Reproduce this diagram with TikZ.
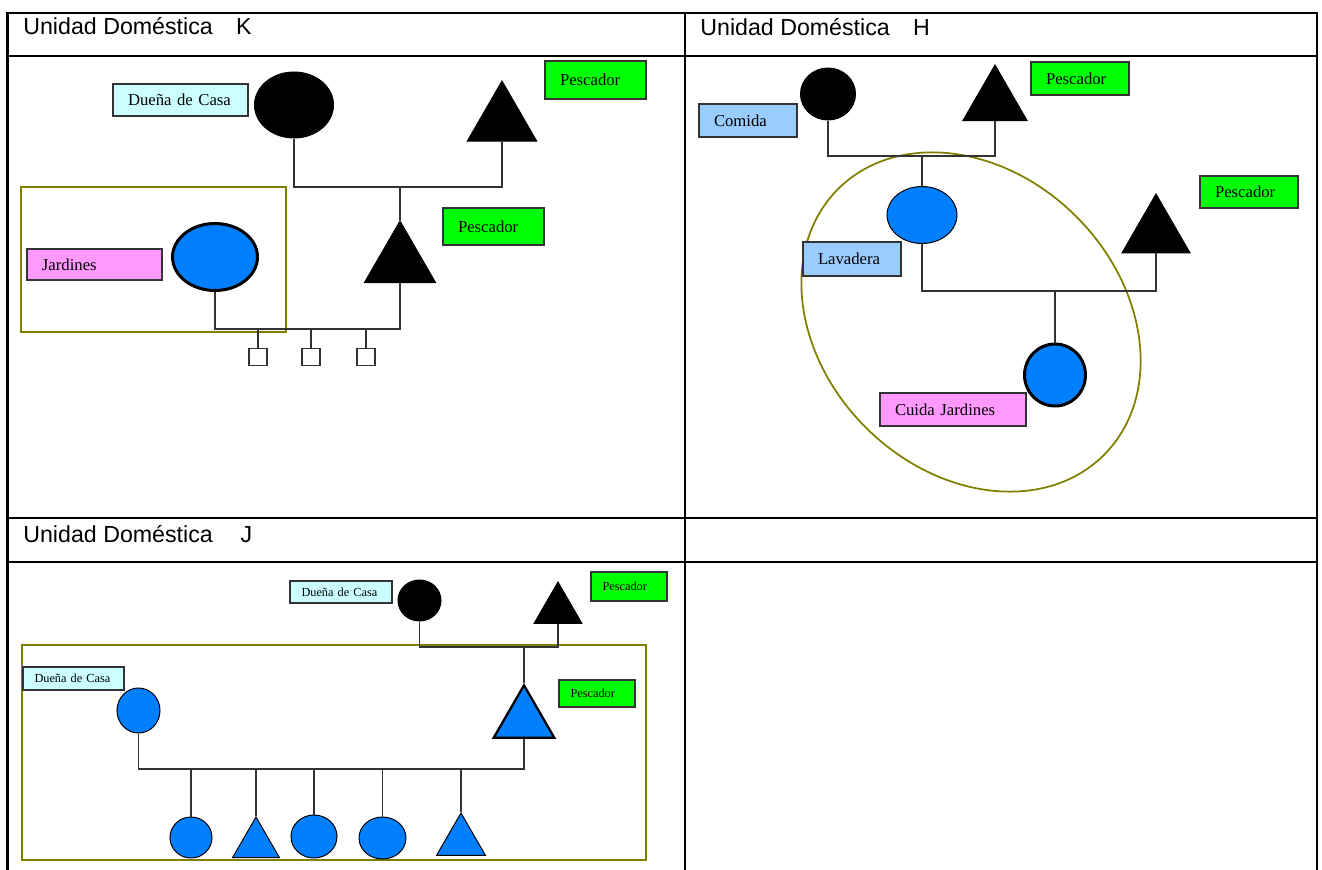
\documentclass[tikz,border=0pt]{standalone}
\usepackage{fontspec}
\setmainfont{Liberation Serif}
\newfontfamily\headfont{Liberation Sans}
\definecolor{myblue}{HTML}{0080FF}
\definecolor{mygreen}{HTML}{00FF00}
\definecolor{mycyan}{HTML}{CCFFFF}
\definecolor{mypink}{HTML}{FF99FF}
\definecolor{mysky}{HTML}{99CCFF}
\definecolor{myolive}{HTML}{808000}
\definecolor{mygray}{HTML}{333333}
\usepackage{tikz}
\usetikzlibrary{
  positioning, shapes.geometric
}
\tikzset{
	femalenode/.style={
			ellipse,
			draw=black,
			fill=black,
			line width=0.2mm,
			inner sep=0pt
		},
	bluefemale/.style={
			femalenode,
			fill=myblue
		},
	malenode/.style={
			regular polygon,
			regular polygon sides=3,
			draw=black,
			fill=black,
			line width=0.2mm,
			inner sep=0pt,
			anchor=north
		},
	bluemale/.style={
			malenode,
			fill=myblue
		},
	childnode/.style={
			rectangle,
			draw=mygray,
			fill=white,
			line width=0.25mm,
			minimum width=3.6mm,
			minimum height=3.4mm,
			inner sep=0pt,
			anchor=north
		},
	tagnode/.style={
			rectangle,
			draw=mygray,
			line width=0.25mm,
			inner xsep=3mm,
			inner ysep=0pt,
			align=left,
			font=\fontsize{9.5}{11}\selectfont
		},
	smalltag/.style={
			tagnode,
			inner xsep=2.3mm,
			font=\fontsize{7}{8}\selectfont
		},
	headnode/.style={
			anchor=base west,
			inner sep=0pt,
			font=\headfont\fontsize{13.2}{15}\selectfont
		},
	linkline/.style={
			draw=mygray,
			line width=0.25mm
		},
	groupline/.style={
			draw=myolive,
			line width=0.35mm
		},
	gridline/.style={
			draw=black,
			line width=0.45mm
		}
}

\begin{document}
\begin{tikzpicture}[x=0.2mm, y=-0.2mm]
\useasboundingbox (0,0) rectangle (1322,870);

\draw[gridline] (7.5,870) -- (7.5,13) -- (1317,13) -- (1317,870);
\draw[gridline] (685,13) -- (685,870);
\draw[gridline] (7.5,56) -- (1317,56);
\draw[gridline] (7.5,518) -- (1317,518);
\draw[gridline] (7.5,562) -- (1317,562);

\node[headnode] (kHead) at (23,35) {Unidad Doméstica\hspace{1em}K};
\node[headnode] (hHead) at (700,36) {Unidad Doméstica\hspace{1em}H};
\node[headnode] (jHead) at (23,542) {Unidad Doméstica\hspace{1.2em}J};

\draw[groupline] (21,187) rectangle (286,332);
\node[femalenode, minimum width=15.8mm, minimum height=13.2mm] (kA) at (294,105) {};
\node[malenode, minimum size=16mm] (kB) at (502,80) {};
\node[malenode, minimum size=16.4mm] (kC) at (400,220) {};
\node[bluefemale, line width=0.6mm, minimum width=17mm, minimum height=13.4mm] (kD) at (215,257) {};
\node[childnode] (kE1) at (258,348) {};
\node[childnode] (kE2) at (311,348) {};
\node[childnode] (kE3) at (366,348) {};
\node[tagnode, fill=mycyan, text width=21mm, minimum height=6.4mm] (kLabA) at (180.5,100) {Dueña de Casa};
\node[tagnode, fill=mygreen, text width=14.2mm, minimum height=7.6mm] (kLabB) at (595.5,80) {Pescador};
\node[tagnode, fill=mygreen, text width=14.2mm, minimum height=7.4mm] (kLabC) at (493.5,226.5) {Pescador};
\node[tagnode, fill=mypink, text width=21mm, minimum height=6.2mm] (kLabD) at (94.5,264.5) {Jardines};

\coordinate (kM) at (400,187);
\coordinate (kN) at (300,329);
\draw[linkline] (kA.south) |- (kM) -| (kB.south);
\draw[linkline] (kM) -- (kC.north);
\draw[linkline] (kD.south) |- (kN) -| (kC.south);
\draw[linkline] (kE1.north) -- (kE1.north |- kN);
\draw[linkline] (kE2.north) -- (kE2.north |- kN);
\draw[linkline] (kE3.north) -- (kE3.north |- kN);

\node[ellipse, groupline, rotate=-45, minimum width=75.2mm, minimum height=59.6mm] (hGroup) at (971,322) {};
\node[femalenode, minimum width=11mm, minimum height=10.4mm] (hA) at (828,94) {};
\node[malenode, minimum size=14.8mm] (hB) at (995,64) {};
\node[bluefemale, minimum width=14mm, minimum height=11.4mm] (hC) at (922,215) {};
\node[malenode, minimum size=15.7mm] (hD) at (1156,193) {};
\node[bluefemale, line width=0.6mm, minimum width=12.2mm, minimum height=12.4mm] (hE) at (1055,375) {};
\node[tagnode, fill=mysky, text width=13.6mm, minimum height=6.6mm] (hLabA) at (748,120.5) {Comida};
\node[tagnode, fill=mygreen, text width=13.6mm, minimum height=6.6mm] (hLabB) at (1080,78.5) {Pescador};
\node[tagnode, fill=mysky, text width=13.6mm, minimum height=6.8mm] (hLabC) at (852,259) {Lavadera};
\node[tagnode, fill=mygreen, text width=13.6mm, minimum height=6.4mm] (hLabD) at (1249,192) {Pescador};
\node[tagnode, fill=mypink, text width=23.2mm, minimum height=6.6mm] (hLabE) at (953,409.5) {Cuida Jardines};

\coordinate (hM) at (922,156);
\coordinate (hN) at (1055,291);
\draw[linkline] (hA.south) |- (hM) -| (hB.south);
\draw[linkline] (hM) -- (hC.north);
\draw[linkline] (hC.south) |- (hN) -| (hD.south);
\draw[linkline] (hN) -- (hE.north);

\draw[groupline] (22,645) rectangle (646,860);
\node[femalenode, minimum width=8.6mm, minimum height=8.2mm] (jA) at (419.5,600.5) {};
\node[malenode, minimum size=11mm] (jB) at (558,581) {};
\node[bluefemale, minimum width=8.6mm, minimum height=9mm] (jC) at (138.5,710.5) {};
\node[bluemale, line width=0.45mm, minimum size=14mm] (jD) at (524,683) {};
\node[bluefemale, minimum width=8.4mm, minimum height=8.2mm] (jE1) at (191,837.5) {};
\node[bluemale, minimum size=10.8mm] (jE2) at (256,816) {};
\node[bluefemale, minimum width=9.2mm, minimum height=8.6mm] (jE3) at (314,836.5) {};
\node[bluefemale, minimum width=9.4mm, minimum height=8.4mm] (jE4) at (382.5,838) {};
\node[bluemale, minimum size=11.3mm] (jE5) at (461,812) {};
\node[smalltag, fill=mycyan, text width=15.8mm, minimum height=4.4mm] (jLabA) at (341,592) {Dueña de Casa};
\node[smalltag, fill=mygreen, text width=10.6mm, minimum height=5.8mm] (jLabB) at (629,586.5) {Pescador};
\node[smalltag, fill=mycyan, text width=15.6mm, minimum height=4.6mm] (jLabC) at (73.5,678.5) {Dueña de Casa};
\node[smalltag, fill=mygreen, text width=10.6mm, minimum height=5.4mm] (jLabD) at (597,693.5) {Pescador};

\coordinate (jM) at (524,647);
\coordinate (jN) at (300,769);
\draw[linkline] (jA.south) |- (jM) -| (jB.south);
\draw[linkline] (jM) -- (jD.north);
\draw[linkline] (jC.south) |- (jN) -| (jD.south);
\draw[linkline] (jE1.north) -- (jE1.north |- jN);
\draw[linkline] (jE2.north) -- (jE2.north |- jN);
\draw[linkline] (jE3.north) -- (jE3.north |- jN);
\draw[linkline] (jE4.north) -- (jE4.north |- jN);
\draw[linkline] (jE5.north) -- (jE5.north |- jN);

\end{tikzpicture}
\end{document}
